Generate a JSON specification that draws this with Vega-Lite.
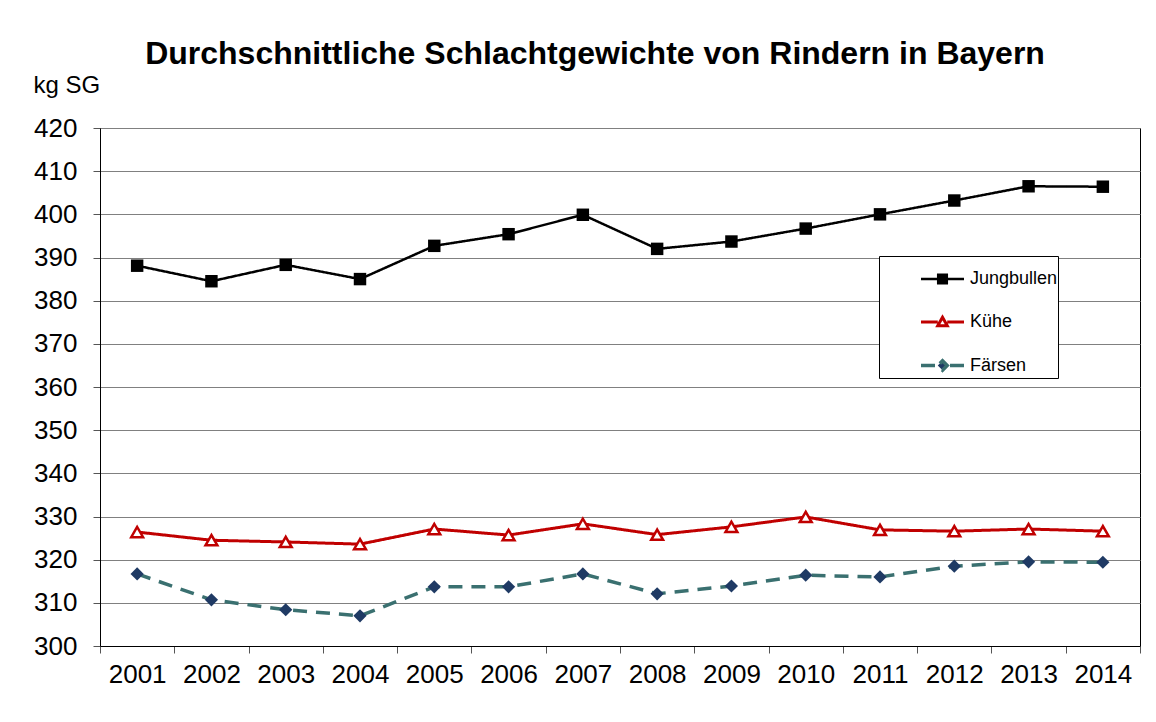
{
  "$schema": "https://vega.github.io/schema/vega-lite/v6.json",
  "width": 1040,
  "height": 518,
  "autosize": "none",
  "padding": {"left": 100, "top": 128, "right": 16, "bottom": 76},
  "background": "white",
  "config": {
    "font": "Liberation Sans",
    "view": {"stroke": "black", "strokeWidth": 1},
    "axis": {"labelFont": "Liberation Sans", "labelColor": "black", "labelFontSize": 26, "tickColor": "#555", "domainColor": "black"}
  },
  "title": {
    "text": "Durchschnittliche Schlachtgewichte von Rindern in Bayern",
    "font": "Liberation Sans",
    "fontSize": 32,
    "fontWeight": "bold",
    "color": "black",
    "anchor": "middle",
    "dx": -25,
    "offset": 2
  },
  "data": {
    "values": [
      {"year": "2001", "series": "Jungbullen", "kg": 388.1},
      {"year": "2002", "series": "Jungbullen", "kg": 384.5},
      {"year": "2003", "series": "Jungbullen", "kg": 388.3},
      {"year": "2004", "series": "Jungbullen", "kg": 385.0},
      {"year": "2005", "series": "Jungbullen", "kg": 392.7},
      {"year": "2006", "series": "Jungbullen", "kg": 395.4},
      {"year": "2007", "series": "Jungbullen", "kg": 399.9},
      {"year": "2008", "series": "Jungbullen", "kg": 392.0},
      {"year": "2009", "series": "Jungbullen", "kg": 393.7},
      {"year": "2010", "series": "Jungbullen", "kg": 396.7},
      {"year": "2011", "series": "Jungbullen", "kg": 400.0},
      {"year": "2012", "series": "Jungbullen", "kg": 403.2},
      {"year": "2013", "series": "Jungbullen", "kg": 406.5},
      {"year": "2014", "series": "Jungbullen", "kg": 406.4},
      {"year": "2001", "series": "Kühe", "kg": 326.4},
      {"year": "2002", "series": "Kühe", "kg": 324.5},
      {"year": "2003", "series": "Kühe", "kg": 324.1},
      {"year": "2004", "series": "Kühe", "kg": 323.6},
      {"year": "2005", "series": "Kühe", "kg": 327.1},
      {"year": "2006", "series": "Kühe", "kg": 325.7},
      {"year": "2007", "series": "Kühe", "kg": 328.3},
      {"year": "2008", "series": "Kühe", "kg": 325.8},
      {"year": "2009", "series": "Kühe", "kg": 327.6},
      {"year": "2010", "series": "Kühe", "kg": 329.9},
      {"year": "2011", "series": "Kühe", "kg": 326.9},
      {"year": "2012", "series": "Kühe", "kg": 326.6},
      {"year": "2013", "series": "Kühe", "kg": 327.1},
      {"year": "2014", "series": "Kühe", "kg": 326.6},
      {"year": "2001", "series": "Färsen", "kg": 316.7},
      {"year": "2002", "series": "Färsen", "kg": 310.7},
      {"year": "2003", "series": "Färsen", "kg": 308.4},
      {"year": "2004", "series": "Färsen", "kg": 307.0},
      {"year": "2005", "series": "Färsen", "kg": 313.7},
      {"year": "2006", "series": "Färsen", "kg": 313.7},
      {"year": "2007", "series": "Färsen", "kg": 316.7},
      {"year": "2008", "series": "Färsen", "kg": 312.1},
      {"year": "2009", "series": "Färsen", "kg": 313.9},
      {"year": "2010", "series": "Färsen", "kg": 316.4},
      {"year": "2011", "series": "Färsen", "kg": 316.0},
      {"year": "2012", "series": "Färsen", "kg": 318.5},
      {"year": "2013", "series": "Färsen", "kg": 319.5},
      {"year": "2014", "series": "Färsen", "kg": 319.4}
    ]
  },
  "encoding": {
    "x": {
      "field": "year",
      "type": "ordinal",
      "scale": {"type": "band", "paddingInner": 0, "paddingOuter": 0},
      "axis": {"title": null, "labelAngle": 0, "tickBand": "extent", "tickSize": 7, "labelPadding": 8, "grid": false, "domainColor": "black"}
    },
    "y": {
      "field": "kg",
      "type": "quantitative",
      "scale": {"domain": [300, 420], "nice": false, "zero": false},
      "axis": {
        "values": [300, 310, 320, 330, 340, 350, 360, 370, 380, 390, 400, 410, 420],
        "tickSize": 7,
        "labelPadding": 16,
        "gridColor": "#808080",
        "gridWidth": 1,
        "title": "kg SG",
        "titleFont": "Liberation Sans",
        "titleFontSize": 24,
        "titleFontWeight": "normal",
        "titleColor": "black",
        "titleAngle": 0,
        "titleAlign": "left",
        "titleBaseline": "alphabetic",
        "titleX": -67,
        "titleY": -36
      }
    }
  },
  "layer": [
    {
      "mark": {"type": "line"},
      "encoding": {
        "stroke": {
          "field": "series",
          "type": "nominal",
          "scale": {"domain": ["Jungbullen", "Kühe", "Färsen"], "range": ["#000000", "#C00000", "#3A7070"]},
          "legend": {
            "title": null,
            "orient": "none",
            "legendX": 779,
            "legendY": 128,
            "strokeColor": "black",
            "fillColor": "white",
            "padding": 0,
            "symbolOffset": 40,
            "symbolSize": 1849,
            "symbolStrokeWidth": 2.5,
            "labelFont": "Liberation Sans",
            "labelFontSize": 18,
            "labelColor": "black",
            "labelOffset": 4,
            "rowPadding": 10,
            "encode": {
              "symbols": {
                "update": {
                  "shape": {"signal": "datum.value === 'Jungbullen' ? 'M-1,0H1M-0.2,-0.2H0.2V0.2H-0.2Z' : datum.value === 'Kühe' ? 'M-1,0H-0.22M0.22,0H1M-0.22,0.17L0,-0.22L0.22,0.17Z' : 'M-1,0H-0.35M0,-0.22L0.22,0L0,0.22L-0.22,0ZM0.35,0H1'"},
                  "fill": {"signal": "datum.value === 'Jungbullen' ? 'black' : datum.value === 'Kühe' ? 'white' : '#1F3A64'"}
                }
              }
            }
          }
        },
        "strokeDash": {
          "field": "series",
          "type": "nominal",
          "scale": {"domain": ["Jungbullen", "Kühe", "Färsen"], "range": [[1, 0], [1, 0], [14, 9]]},
          "legend": null
        },
        "strokeWidth": {
          "field": "series",
          "type": "nominal",
          "scale": {"domain": ["Jungbullen", "Kühe", "Färsen"], "range": [2.5, 3.5, 3]},
          "legend": null
        }
      }
    },
    {
      "transform": [{"filter": "datum.series === 'Jungbullen'"}],
      "mark": {"type": "point", "shape": "square", "filled": true, "fill": "black", "stroke": "black", "strokeWidth": 0, "size": 155, "opacity": 1}
    },
    {
      "transform": [{"filter": "datum.series === 'Kühe'"}],
      "mark": {"type": "point", "shape": "triangle-up", "filled": true, "fill": "white", "stroke": "#C00000", "strokeWidth": 2.5, "size": 140, "opacity": 1}
    },
    {
      "transform": [{"filter": "datum.series === 'Färsen'"}],
      "mark": {"type": "point", "shape": "diamond", "filled": true, "fill": "#1F3A64", "stroke": "#1F3A64", "strokeWidth": 0, "size": 175, "opacity": 1}
    }
  ]
}
